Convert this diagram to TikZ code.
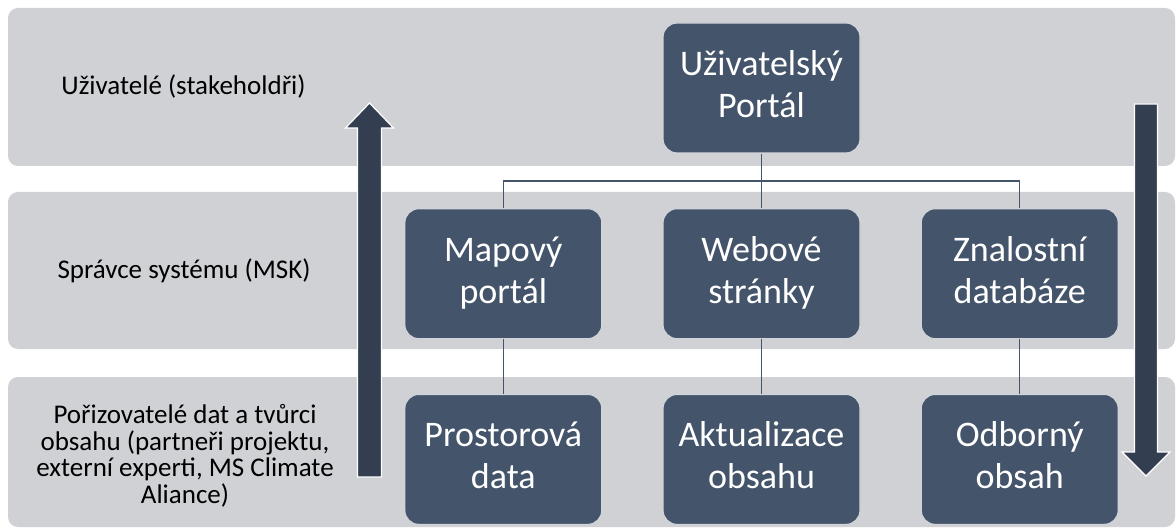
\documentclass[tikz,border=0pt]{standalone}
\usepackage{fontspec}
\setmainfont{Carlito}
\usetikzlibrary{positioning}
\definecolor{bandgray}{RGB}{208,209,213}
\definecolor{boxblue}{RGB}{68,84,106}
\definecolor{arrowblue}{RGB}{51,63,80}
\begin{document}
\begin{tikzpicture}[x=1pt, y=1pt,
		band/.style = {fill=bandgray, rounded corners=5pt, minimum width=583.5pt, minimum height=#1, inner sep=0pt},
		box/.style = {draw=white!75!boxblue, line width=0.6pt, fill=boxblue, rounded corners=7pt, minimum width=98.5pt, minimum height=65pt, inner sep=0pt, align=center, text=white, font=\fontsize{18}{21}\selectfont},
		lbl/.style = {align=center, font=\fontsize{13.5}{13.3}\selectfont},
		line/.style = {draw=boxblue, line width=0.75pt},
		arr/.style = {fill=arrowblue, draw=white, line width=0.6pt},
		node distance = 27.25pt and 30pt]
		\useasboundingbox (0,0) rectangle (588,-264.5);
		% pasy
		\node[band=79pt] (b1) at (295.75,-43.5) {};
		\node[band=78.5pt] (b2) at (295.75,-135.25) {};
		\node[band=75pt] (b3) at (295.75,-226) {};
		\node[lbl] (l1) at (91.75,-43.5) {Uživatelé (stakeholdři)};
		\node[lbl] (l2) at (92,-135.25) {Správce systému (MSK)};
		\node[lbl] (l3) at (92.5,-228) {Pořizovatelé dat a tvůrci\\obsahu (partneři projektu,\\externí experti, MS Climate\\Aliance)};
		% sipky
		\path[arr] (178.75,-238.5) -- (178.75,-64) -- (172.75,-64) -- (184.75,-51.5) -- (196.75,-64) -- (190.75,-64) -- (190.75,-238.5) -- cycle;
		\path[arr] (567.25,-52) -- (567.25,-226) -- (561,-226) -- (573,-238) -- (585,-226) -- (578.75,-226) -- (578.75,-52) -- cycle;
		% bloky
		\node[box] (top) at (380.75,-44) {\strut Uživatelský\\\strut Portál};
		\node[box] (web) [below=of top] {\strut Webové\\\strut stránky};
		\node[box] (map) [left=of web] {\strut Mapový\\\strut portál};
		\node[box] (zna) [right=of web] {\strut Znalostní\\\strut databáze};
		\node[box] (pro) [below=of map] {\strut Prostorová\\\strut data};
		\node[box] (akt) [below=of web] {\strut Aktualizace\\\strut obsahu};
		\node[box] (odb) [below=of zna] {\strut Odborný\\\strut obsah};
		\path (top.south) -- (web.north) coordinate[midway] (bus);
		\draw[line] (top) -- (web);
		\draw[line] (map.north) |- (bus) -| (zna.north);
		\draw[line] (map) -- (pro);
		\draw[line] (web) -- (akt);
		\draw[line] (zna) -- (odb);
	\end{tikzpicture}
\end{document}
